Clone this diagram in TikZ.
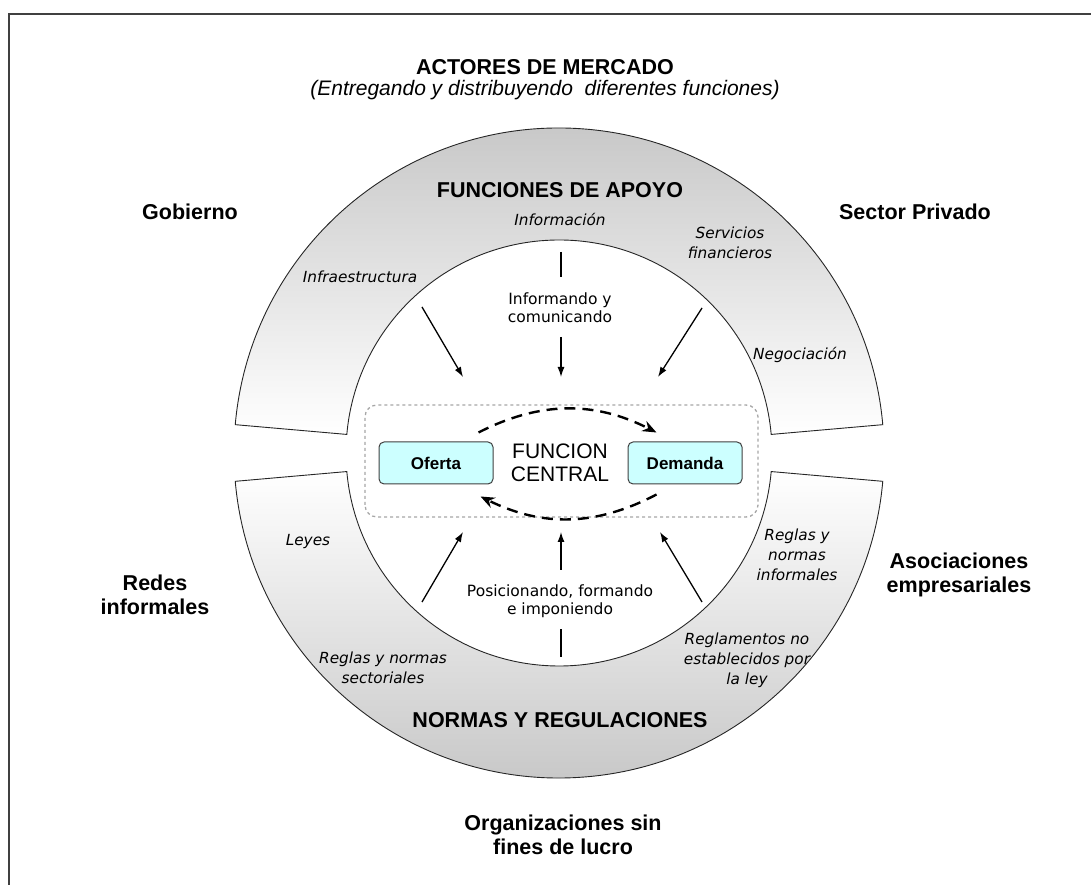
\documentclass[tikz,border=0pt]{standalone}
\usepackage{fontspec}
\setmainfont{Liberation Sans}
\newfontfamily\dejavu{DejaVu Sans}[ItalicFont={DejaVu Sans Oblique},BoldFont={DejaVu Sans Bold}]
\usetikzlibrary{positioning,arrows.meta}
\definecolor{ringgray}{HTML}{C6C6C6}
\definecolor{mktcyan}{HTML}{CCFFFF}

\begin{document}
\begin{tikzpicture}[x=1pt,y=1pt,on grid,node distance=23pt,>={Latex[length=10pt,width=7pt]},
	actor/.style={font=\fontsize{21.5}{24}\selectfont\bfseries,align=center},
	ringtitle/.style={font=\fontsize{21.5}{24}\selectfont\bfseries},
	func/.style={font=\dejavu\fontsize{15.3}{20}\selectfont\itshape,align=center},
	proc/.style={font=\dejavu\fontsize{15.5}{18}\selectfont,align=center},
	market/.style={draw=black!75,line width=1pt,rounded corners=5pt,fill=mktcyan,minimum width=114pt,minimum height=42pt,font=\fontsize{17}{20}\selectfont\bfseries},
	ring/.style={draw=black!85,line width=0.9pt},
	arr/.style={->,line width=1.3pt},
	flow/.style={-{Stealth[length=14pt,width=11pt]},line width=2.4pt,dash pattern=on 11pt off 7pt}]

	\useasboundingbox (0,0) rectangle (1091,885);
	\draw[black!75,line width=2pt] (9,0) -- (9,871) -- (1091,871);

	\coordinate (c) at (559,432);
	\path[ring,top color=ringgray,bottom color=white] ([shift={(175:325)}]c) arc[start angle=175,end angle=5,radius=325]
		-- ([shift={(5:213)}]c) arc[start angle=5,end angle=175,radius=213] -- cycle;
	\path[ring,top color=white,bottom color=ringgray] ([shift={(185:325)}]c) arc[start angle=185,end angle=355,radius=325]
		-- ([shift={(355:213)}]c) arc[start angle=355,end angle=185,radius=213] -- cycle;

	\node[actor] (actores) at (545,818) {ACTORES DE MERCADO};
	\node[font=\fontsize{21}{24}\selectfont\itshape] (entregando) [below=of actores] {(Entregando y distribuyendo\ \ diferentes funciones)};
	\node[actor] (gobierno) at (190,673) {Gobierno};
	\node[actor] (privado) at (915,673) {Sector Privado};
	\node[actor] (redes) at (155,290) {Redes\\informales};
	\node[actor] (asociaciones) at (959,310) {Asociaciones\\empresariales};
	\node[actor] (lucro) at (563,50) {Organizaciones sin\\fines de lucro};

	\node[ringtitle] (apoyo) at (560,695) {FUNCIONES DE APOYO};
	\node[func] (informacion) [below=30pt of apoyo] {Información};
	\node[func] (infra) at (360,608) {Infraestructura};
	\node[func] (servicios) at (730,642) {Servicios\\financieros};
	\node[func] (negociacion) at (800,530) {Negociación};
	\node[proc] (informando) at (560,577) {Informando y\\comunicando};

	\node[font=\fontsize{21}{23}\selectfont,align=center] (central) at (560,422) {FUNCION\\CENTRAL};
	\node[market] (oferta) [left=124pt of central] {Oferta};
	\node[market] (demanda) [right=125pt of central] {Demanda};
	\draw[gray!70,line width=1.3pt,dash pattern=on 3pt off 3pt,rounded corners=12pt] (365,368) rectangle (758,480);
	\draw[flow] ([shift={(-15,9)}]oferta.north east) to[bend left=27] ([shift={(29,9)}]demanda.north west);
	\draw[flow] ([shift={(29,-10)}]demanda.south west) to[bend left=27] ([shift={(-13,-12)}]oferta.south east);

	\node[func] (leyes) at (308,343) {Leyes};
	\node[func] (sectoriales) at (383,217) {Reglas y normas\\sectoriales};
	\node[ringtitle] (normas) at (560,165) {NORMAS Y REGULACIONES};
	\node[func] (informales) at (797,330) {Reglas y\\normas\\informales};
	\node[func] (reglamentos) at (747,225) {Reglamentos no\\establecidos por\\la ley};
	\node[proc] (posicionando) at (560,284) {Posicionando, formando\\e imponiendo};

	\coordinate (infra-a) at (422,578);
	\coordinate (infra-b) at (463,508);
	\coordinate (info-a) at (561,633);
	\coordinate (info-b) at (561,608);
	\coordinate (info-c) at (561,548);
	\coordinate (info-d) at (561,508);
	\coordinate (fin-a) at (702,577);
	\coordinate (fin-b) at (658,508);
	\coordinate (ley-a) at (422,283);
	\coordinate (ley-b) at (463,353);
	\coordinate (pos-a) at (561,228);
	\coordinate (pos-b) at (561,256);
	\coordinate (pos-c) at (561,315);
	\coordinate (pos-d) at (561,353);
	\coordinate (inf-a) at (702,283);
	\coordinate (inf-b) at (660,353);

	\draw[arr] (infra-a) -- (infra-b);
	\draw[line width=1.3pt] (info-a) -- (info-b);
	\draw[arr] (info-c) -- (info-d);
	\draw[arr] (fin-a) -- (fin-b);
	\draw[arr] (ley-a) -- (ley-b);
	\draw[line width=1.3pt] (pos-a) -- (pos-b);
	\draw[arr] (pos-c) -- (pos-d);
	\draw[arr] (inf-a) -- (inf-b);
\end{tikzpicture}
\end{document}
